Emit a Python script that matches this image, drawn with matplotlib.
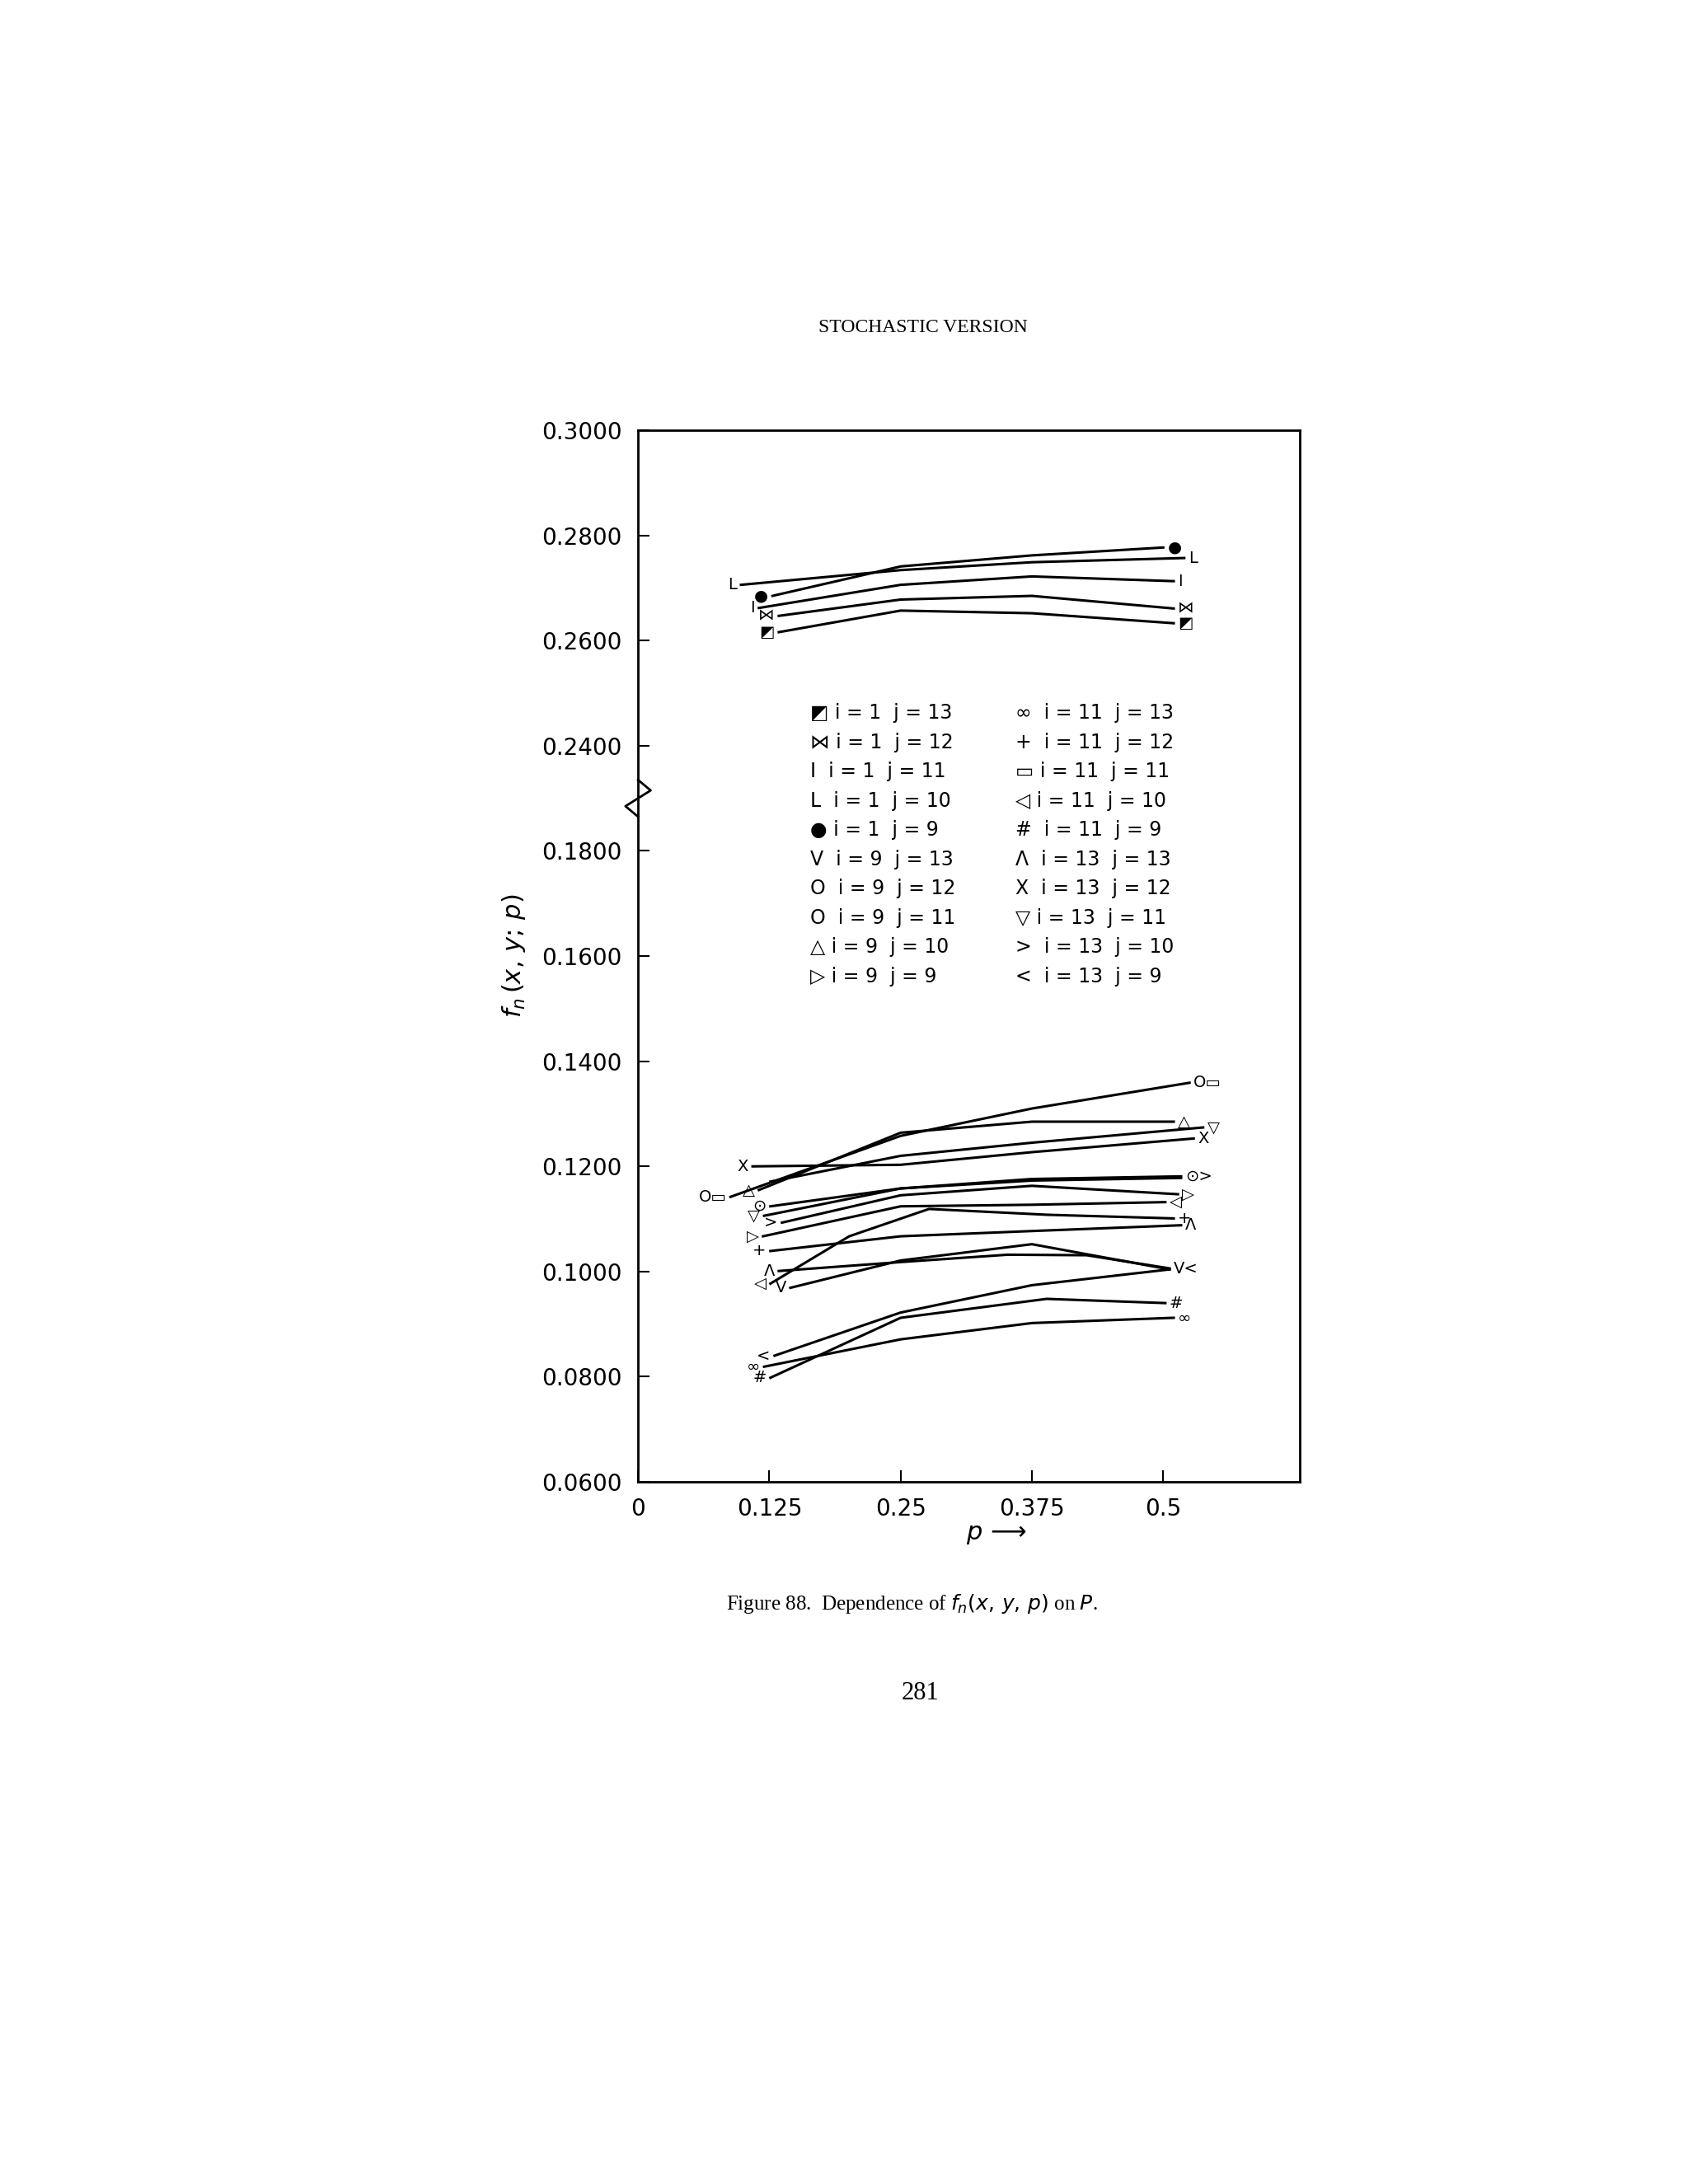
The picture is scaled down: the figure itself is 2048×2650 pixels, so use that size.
import matplotlib.pyplot as plt

plt.rcParams['font.family'] = ['DejaVu Sans']

# broken y axis: values above the break are drawn shifted down by this amount
SHIFT = 0.04

# upper group (i = 1)
top_p = [
    [0.128, 0.25, 0.375, 0.50],
    [0.098, 0.25, 0.375, 0.52],
    [0.115, 0.25, 0.375, 0.51],
    [0.134, 0.25, 0.375, 0.51],
    [0.134, 0.25, 0.375, 0.51],
]
top_v = [
    [0.2685, 0.2741, 0.2762, 0.2777],
    [0.2706, 0.2734, 0.2749, 0.2757],
    [0.2662, 0.2706, 0.2722, 0.2713],
    [0.2647, 0.2678, 0.2685, 0.2661],
    [0.2616, 0.2657, 0.2652, 0.2633],
]
top_marks = [("●", "●"), ("L", "L"), ("I", "I"), ("⋈", "⋈"), ("◩", "◩")]

# lower group (i = 9, 11, 13)
low_p = [
    [0.088, 0.25, 0.375, 0.525],
    [0.115, 0.25, 0.375, 0.51],
    [0.126, 0.25, 0.375, 0.538],
    [0.109, 0.25, 0.375, 0.529],
    [0.126, 0.25, 0.375, 0.517],
    [0.120, 0.25, 0.375, 0.517],
    [0.137, 0.25, 0.375, 0.514],
    [0.119, 0.25, 0.375, 0.502],
    [0.126, 0.201, 0.277, 0.389, 0.510],
    [0.126, 0.25, 0.375, 0.517],
    [0.134, 0.25, 0.352, 0.427, 0.506],
    [0.145, 0.25, 0.375, 0.506],
    [0.130, 0.25, 0.375, 0.506],
    [0.126, 0.25, 0.389, 0.502],
    [0.120, 0.25, 0.375, 0.510],
]
low_v = [
    [0.1142, 0.1258, 0.1310, 0.1359],
    [0.1155, 0.1264, 0.1285, 0.1285],
    [0.1171, 0.1220, 0.1245, 0.1274],
    [0.1200, 0.1203, 0.1227, 0.1253],
    [0.1124, 0.1158, 0.1176, 0.1181],
    [0.1106, 0.1158, 0.1173, 0.1178],
    [0.1093, 0.1145, 0.1163, 0.1147],
    [0.1067, 0.1124, 0.1127, 0.1132],
    [0.0977, 0.1067, 0.1119, 0.1108, 0.1101],
    [0.1039, 0.1067, 0.1077, 0.1088],
    [0.1001, 0.1018, 0.1032, 0.1031, 0.1006],
    [0.0969, 0.1021, 0.1052, 0.1004],
    [0.0840, 0.0922, 0.0974, 0.1004],
    [0.0798, 0.0912, 0.0948, 0.0940],
    [0.0819, 0.0871, 0.0902, 0.0912],
]
low_marks = [("O▭", "O▭"), ("△", "△"), ("", "▽"), ("X", "X"), ("⊙", "⊙>"),
             ("▽", ""), (">", "▷"), ("▷", "◁"), ("◁", "+"), ("+", "Λ"),
             ("Λ", "V<"), ("V", ""), ("<", ""), ("#", "#"), ("∞", "∞")]

legend_left = ["◩ i = 1  j = 13", "⋈ i = 1  j = 12", "I  i = 1  j = 11",
               "L  i = 1  j = 10", "● i = 1  j = 9", "V  i = 9  j = 13",
               "O  i = 9  j = 12", "O  i = 9  j = 11", "△ i = 9  j = 10",
               "▷ i = 9  j = 9"]
legend_right = ["∞  i = 11  j = 13", "+  i = 11  j = 12", "▭ i = 11  j = 11",
                "◁ i = 11  j = 10", "#  i = 11  j = 9", "Λ  i = 13  j = 13",
                "X  i = 13  j = 12", "▽ i = 13  j = 11", ">  i = 13  j = 10",
                "<  i = 13  j = 9"]

ytick_vals = [0.0600, 0.0800, 0.1000, 0.1200, 0.1400, 0.1600, 0.1800,
              0.2400, 0.2600, 0.2800, 0.3000]
xtick_vals = [0, 0.125, 0.25, 0.375, 0.5]
xtick_labels = ["0", "0.125", "0.25", "0.375", "0.5"]

fig = plt.figure(figsize=(20.48, 26.5), dpi=100)
ax = fig.add_axes([0.378, 0.3215, 0.392, 0.4815])

def draw(ps, vs, marks, shift):
    for p, v, (m0, m1) in zip(ps, vs, marks):
        y = [val - shift for val in v]
        ax.plot(p, y, color='black', lw=2.2)
        if m0:
            ax.text(p[0] - 0.004, y[0], m0, ha='right', va='center', fontsize=14)
        if m1:
            ax.text(p[-1] + 0.004, y[-1], m1, ha='left', va='center', fontsize=14)

draw(top_p, top_v, top_marks, SHIFT)
draw(low_p, low_v, low_marks, 0)

ax.set_xlim(0, 0.63)
ax.set_ylim(0.06, 0.26)
ax.set_yticks([v - SHIFT if v > 0.2 else v for v in ytick_vals])
ax.set_yticklabels([f"{v:.4f}" for v in ytick_vals], fontsize=20)
ax.set_xticks(xtick_vals)
ax.set_xticklabels(xtick_labels, fontsize=20)
ax.tick_params(direction='in', length=10, width=1.5, pad=14)
for s in ax.spines.values():
    s.set_linewidth(2)

# break mark on the left axis
ax.plot([0, 0], [0.187, 0.193], color='white', lw=5, clip_on=False)
ax.plot([0, 0.012, -0.012, 0], [0.1935, 0.1915, 0.1885, 0.1865],
        color='black', lw=2, clip_on=False)

for k, (a, b) in enumerate(zip(legend_left, legend_right)):
    yy = 0.731 - k * 0.0278
    ax.text(0.26, yy, a, transform=ax.transAxes, fontsize=17, va='center')
    ax.text(0.57, yy, b, transform=ax.transAxes, fontsize=17, va='center')

ax.set_ylabel(r"$f_n\,(x,\,y;\,p)$", fontsize=22, labelpad=12)
fig.text(0.59, 0.295, r"$p$ ⟶", fontsize=22, ha='center')
fig.text(0.547, 0.848, "STOCHASTIC VERSION", fontsize=17, ha='center',
         family='Liberation Serif')
fig.text(0.54, 0.263, r"Figure 88.  Dependence of $f_n(x,\,y,\,p)$ on $P$.",
         fontsize=18, ha='center', family='Liberation Serif')
fig.text(0.545, 0.222, "281", fontsize=22, ha='center', family='Liberation Serif')

fig.savefig("out.png", dpi=100)
